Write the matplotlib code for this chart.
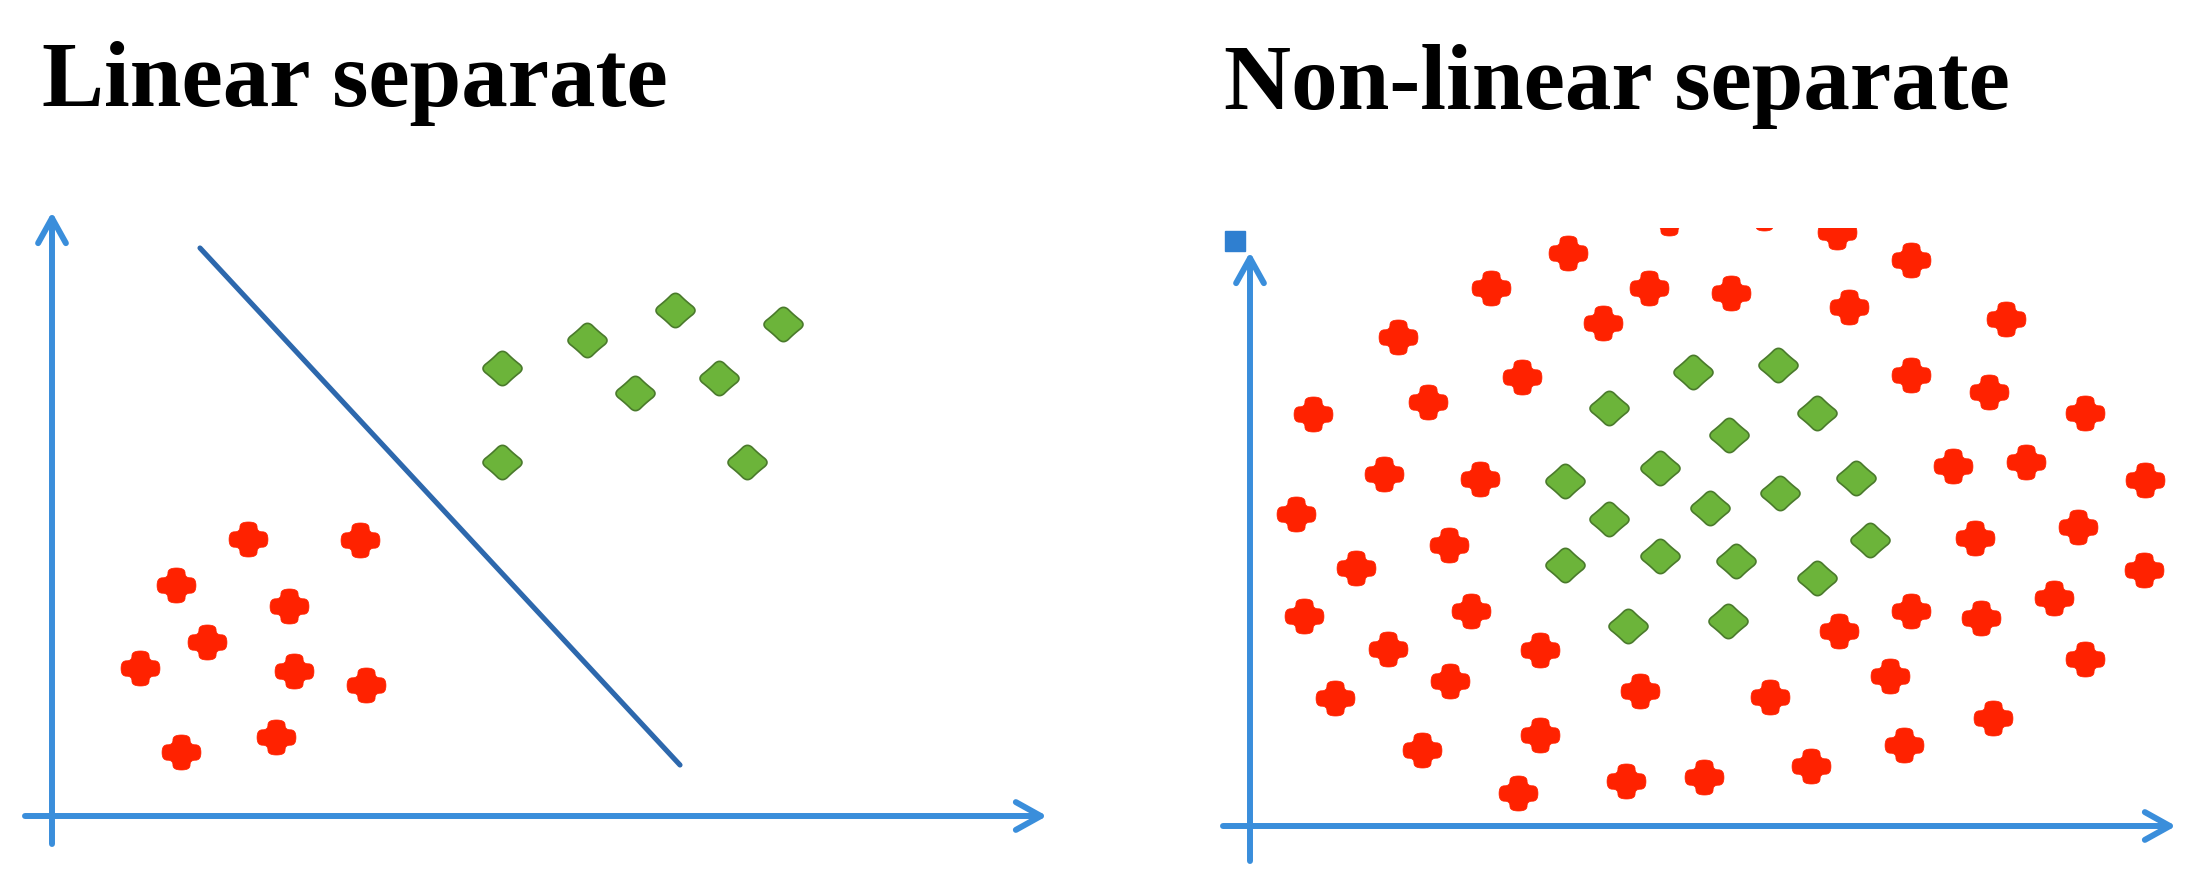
import numpy as np
import matplotlib
matplotlib.use("Agg")
import matplotlib.pyplot as plt
from matplotlib.path import Path

# ---------------- data ----------------
TITLES = ["Linear separate", "Non-linear separate"]

# left panel (linearly separable)
lin_red_x = [1.96, 3.08, 1.24, 2.37, 1.55, 0.88, 2.42, 3.14, 1.29, 2.24]
lin_red_y = [2.77, 2.76, 2.31, 2.10, 1.74, 1.48, 1.45, 1.31, 0.64, 0.79]
lin_green_x = [4.50, 5.35, 6.23, 7.31, 5.83, 6.67, 4.50, 6.95]
lin_green_y = [4.48, 4.76, 5.06, 4.92, 4.23, 4.38, 3.54, 3.54]
boundary_x = [1.48, 6.28]
boundary_y = [5.68, 0.51]

# right panel (non-linearly separable)
non_red_x = [3.18, 4.19, 2.41, 3.99, 1.48, 3.53, 2.72, 1.78, 0.63, 1.34,
             2.30, 0.46, 1.99, 5.14, 5.87, 6.61, 4.81, 5.99, 7.56, 6.61,
             7.39, 8.35, 7.03, 7.76, 8.95, 7.25, 8.28, 1.06, 0.54, 2.21,
             1.38, 2.90, 2.00, 0.85, 3.90, 2.90, 1.72, 3.76, 2.68, 4.54,
             8.94, 8.04, 6.61, 7.31, 5.89, 8.35, 6.40, 5.20, 7.43, 6.54,
             5.61]
non_red_y = [5.73, 6.08, 5.38, 5.38, 4.89, 5.03, 4.49, 4.24, 4.12, 3.52,
             3.47, 3.12, 2.81, 6.13, 5.94, 5.66, 5.33, 5.19, 5.07, 4.51,
             4.34, 4.13, 3.60, 3.64, 3.46, 2.88, 2.99, 2.58, 2.10, 2.15,
             1.77, 1.76, 1.45, 1.28, 1.35, 0.91, 0.76, 0.45, 0.33, 0.49,
             2.56, 2.28, 2.15, 2.08, 1.95, 1.67, 1.50, 1.29, 1.08, 0.81,
             0.60]
non_green_x = [4.43, 3.59, 3.15, 4.10, 3.59, 5.28, 5.67, 4.79, 6.06, 5.30,
               4.60, 6.20, 3.15, 4.10, 3.78, 4.86, 5.67, 4.78]
non_green_y = [4.54, 4.18, 3.45, 3.58, 3.07, 4.61, 4.13, 3.91, 3.48, 3.33,
               3.18, 2.86, 2.61, 2.70, 2.00, 2.65, 2.48, 2.05]

# axis extents (start, end) for each panel
lin_xaxis = (-0.27, 9.95)
lin_yaxis = (-0.28, 6.04)
non_xaxis = (-0.27, 9.26)
non_yaxis = (-0.35, 5.74)

# ---------------- style ----------------
AXIS_BLUE = "#3a8edb"
LINE_BLUE = "#2d68ad"
RED = "#ff2200"
GREEN = "#6cb43a"
GREEN_EDGE = "#4a7a2c"


def chaikin(pts, n):
    pts = np.asarray(pts, float)
    for _ in range(n):
        nxt = np.roll(pts, -1, axis=0)
        q = 0.75 * pts + 0.25 * nxt
        r = 0.25 * pts + 0.75 * nxt
        pts = np.empty((2 * len(q), 2))
        pts[0::2] = q
        pts[1::2] = r
    return pts


def smooth_marker(poly, squash, n=4):
    pts = chaikin(poly, n)
    pts[:, 1] *= squash
    pts = np.vstack([pts, pts[:1]])
    return Path(pts, closed=True)


w = 0.44
plus_poly = [(1, w), (w, w), (w, 1), (-w, 1), (-w, w), (-1, w), (-1, -w),
             (-w, -w), (-w, -1), (w, -1), (w, -w), (1, -w)]
k = 0.47
diamond_poly = [(1, 0), (k, k), (0, 1), (-k, k), (-1, 0), (-k, -k), (0, -1), (k, -k)]

RED_MARKER = smooth_marker(plus_poly, 0.90)
GREEN_MARKER = smooth_marker(diamond_poly, 0.88, n=3)

W, H = 2188, 873
fig = plt.figure(figsize=(W / 100, H / 100), dpi=100)
fig.patch.set_facecolor("white")

ax1 = fig.add_axes([0, 0, 1094 / W, (H - 190) / H])
ax1.set_xlim(-0.52, 10.42)
ax1.set_ylim(-0.57, 6.26)
ax2 = fig.add_axes([1094 / W, 0, 1094 / W, (H - 228) / H])
ax2.set_xlim(-1.56, 9.38)
ax2.set_ylim(-0.47, 5.98)

for ax in (ax1, ax2):
    ax.set_axis_off()


def axis_arrow(ax, start, end):
    ax.annotate("", xy=end, xytext=start,
                arrowprops=dict(arrowstyle="->,head_length=0.9,head_width=0.5",
                                lw=4.3, color=AXIS_BLUE, shrinkA=0, shrinkB=0,
                                mutation_scale=20),
                annotation_clip=False)


# left panel
axis_arrow(ax1, (0, lin_yaxis[0]), (0, lin_yaxis[1]))
axis_arrow(ax1, (lin_xaxis[0], 0), (lin_xaxis[1], 0))
ax1.plot(boundary_x, boundary_y, color=LINE_BLUE, lw=3.7, solid_capstyle="round")
ax1.plot(lin_red_x, lin_red_y, ls="none", marker=RED_MARKER, ms=28,
         mfc=RED, mec=RED, mew=0.5)
ax1.plot(lin_green_x, lin_green_y, ls="none", marker=GREEN_MARKER, ms=28,
         mfc=GREEN, mec=GREEN_EDGE, mew=1.2)

# right panel
axis_arrow(ax2, (0, non_yaxis[0]), (0, non_yaxis[1]))
axis_arrow(ax2, (non_xaxis[0], 0), (non_xaxis[1], 0))
ax2.plot([-0.155], [5.855], ls="none", marker="s", ms=15, color="#2f7fd0")
ax2.plot(non_red_x, non_red_y, ls="none", marker=RED_MARKER, ms=28,
         mfc=RED, mec=RED, mew=0.5)
ax2.plot(non_green_x, non_green_y, ls="none", marker=GREEN_MARKER, ms=28,
         mfc=GREEN, mec=GREEN_EDGE, mew=1.2)

# titles
title_kw = dict(family=["Liberation Serif", "DejaVu Serif"], weight="bold",
                fontsize=67, va="baseline", ha="left", color="black")
fig.text(42 / W, 1 - 106 / H, TITLES[0], **title_kw)
fig.text(1224 / W, 1 - 109 / H, TITLES[1], **title_kw)

fig.savefig("out.png", dpi=100, facecolor="white")
